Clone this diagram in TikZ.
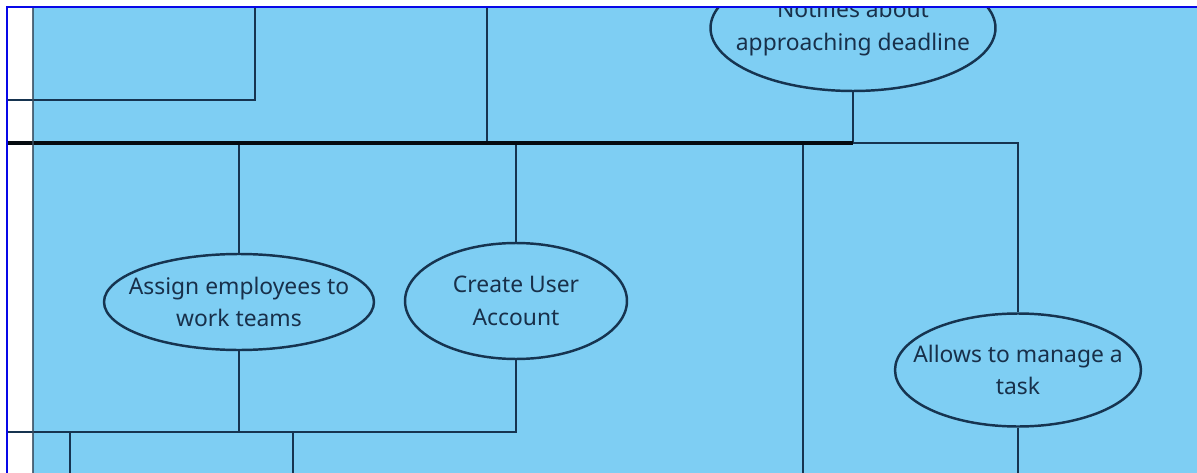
\documentclass[tikz,border=0pt]{standalone}
\usepackage{fontspec}
\setmainfont{Noto Sans}
\usetikzlibrary{shapes.geometric,positioning}
\definecolor{lanefill}{RGB}{126,206,243}
\definecolor{linkcol}{RGB}{22,52,80}
\definecolor{textcol}{RGB}{24,48,74}
\definecolor{framecol}{RGB}{8,8,232}

\begin{document}
\begin{tikzpicture}
[x=0.02cm, y=-0.02cm, font=\fontsize{13}{18.7}\selectfont, line width=1.1pt,
usecase/.style={ellipse, draw=linkcol, line width=1.4pt, inner sep=0pt},
casetext/.style={align=center, text=textcol, inner sep=0pt},
link/.style={draw=linkcol, line width=1.2pt},
bus/.style={draw=black!80!linkcol, line width=2.6pt},
lanebar/.style={draw=linkcol!70!gray, line width=1.4pt, opacity=0.8}]

\useasboundingbox (0,0) rectangle (1197,473);
\fill[lanefill] (33,7) rectangle (1197,473);

\begin{scope}
\clip (7,7) rectangle (1197,473);

%\node (lane1) at (400,20) {};
\node[usecase, minimum width=5.7cm, minimum height=2.52cm] (notify) at (853,28) {};
\node[usecase, minimum width=5.4cm, minimum height=1.92cm] (assign) at (239,302) {};
\node[usecase, minimum width=4.44cm, minimum height=2.32cm] (create) at (516,301) {};
\node[usecase, minimum width=4.92cm, minimum height=2.26cm] (manage) at (1018,370) {};

\node[casetext] (notify-t) at (notify) {Notifies about\\approaching deadline};
\node[casetext] (assign-t) at (assign) {Assign employees to\\work teams};
\node[casetext] (create-t) at (create) {Create User\\Account};
\node[casetext] (manage-t) at (manage) {Allows to manage a\\task};

\coordinate (busL) at (0,143);
\coordinate (busM) at (853,143);
\coordinate (busR) at (1018,143);
\coordinate (lowL) at (0,432);
\coordinate (bottom) at (0,480);
\coordinate (topA) at (255,0);
\coordinate (topB) at (487,0);
\coordinate (sideA) at (0,100);
\coordinate (lane) at (803,143);

\draw[link] (topA) |- (sideA);
\draw[link] (topB) -- (topB |- busL);
\draw[link] (notify.south) -- (busM);
\draw[link] (busM) -- (busR) -- (manage.north);
\draw[link] (manage.south) -- (manage.south |- bottom);
\draw[link] (lane) -- (lane |- bottom);

\draw[link] (assign.north |- busL) -- (assign.north);
\draw[link] (create.north |- busL) -- (create.north);
\draw[link] (assign.south) -- (assign.south |- lowL);
\draw[link] (create.south) |- (lowL);

\foreach \x in {70,293} {
  \coordinate (drop\x) at (\x,432);
  \draw[link] (drop\x) -- (drop\x |- bottom);
}

\draw[bus] (busL) -- (busM);
\end{scope}

\draw[lanebar] (33,7) -- (33,473);
\draw[framecol, line width=1.5pt] (7,473) -- (7,7) -- (1197,7);
\end{tikzpicture}
\end{document}
